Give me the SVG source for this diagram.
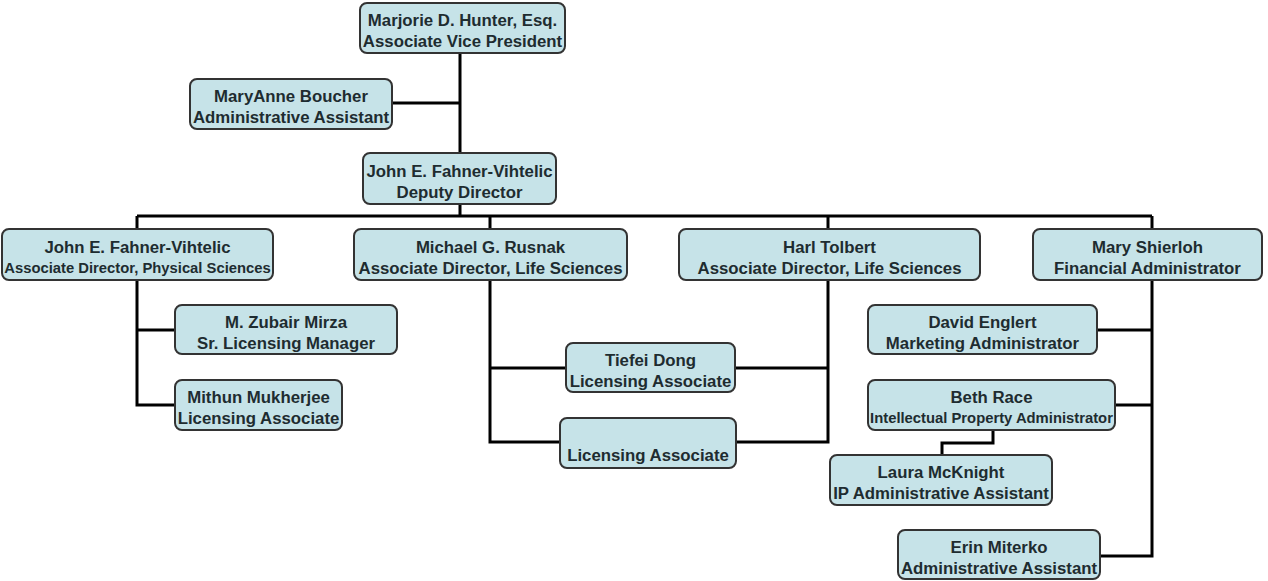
<svg xmlns="http://www.w3.org/2000/svg" width="1268" height="581" viewBox="0 0 1268 581">
<style>
.box{fill:#c6e3e8;stroke:#333;stroke-width:2}
.t{font-family:"Liberation Sans",Arial,sans-serif;font-weight:bold;font-size:16.8px;fill:#1e2c30;text-anchor:middle}
.s{font-size:14.8px}
.c{fill:none;stroke:#000;stroke-width:3}
</style>
<rect width="1268" height="581" fill="#fff"/>
<g id="connectors">
<path class="c" d="M460 53V153M392 103H460M460 204V216M137 216H1152M137 216V229M490 216V229M828 216V229M1152 216V229"/>
<path class="c" d="M137 280V405H174M137 330H174"/>
<path class="c" d="M490 280V442H560M490 368H566M828 280V442H736M735 368H828"/>
<path class="c" d="M1152 280V556H1100M1097 330H1152M1115 405H1152M993 430V443H942V455"/>
</g>
<g id="n-hunter"><rect class="box" x="360" y="3" width="205" height="50" rx="7"/><text class="t" x="462.5" y="26">Marjorie D. Hunter, Esq.</text><text class="t" x="462.5" y="47">Associate Vice President</text></g>
<g id="n-boucher"><rect class="box" x="190" y="79" width="202" height="50" rx="7"/><text class="t" x="291" y="102">MaryAnne Boucher</text><text class="t" x="291" y="123">Administrative Assistant</text></g>
<g id="n-deputy"><rect class="box" x="363" y="153" width="193" height="51" rx="7"/><text class="t" x="459.5" y="177">John E. Fahner-Vihtelic</text><text class="t" x="459.5" y="198">Deputy Director</text></g>
<g id="n-physical"><rect class="box" x="2" y="229" width="271" height="51" rx="7"/><text class="t" x="137.5" y="253">John E. Fahner-Vihtelic</text><text class="t s" x="137.5" y="273">Associate Director, Physical Sciences</text></g>
<g id="n-rusnak"><rect class="box" x="354" y="229" width="273" height="51" rx="7"/><text class="t" x="490.5" y="253">Michael G. Rusnak</text><text class="t" x="490.5" y="274">Associate Director, Life Sciences</text></g>
<g id="n-tolbert"><rect class="box" x="679" y="229" width="301" height="51" rx="7"/><text class="t" x="829.5" y="253">Harl Tolbert</text><text class="t" x="829.5" y="274">Associate Director, Life Sciences</text></g>
<g id="n-shierloh"><rect class="box" x="1033" y="229" width="229" height="51" rx="7"/><text class="t" x="1147.5" y="253">Mary Shierloh</text><text class="t" x="1147.5" y="274">Financial Administrator</text></g>
<g id="n-mirza"><rect class="box" x="175" y="305" width="222" height="49" rx="7"/><text class="t" x="286" y="328">M. Zubair Mirza</text><text class="t" x="286" y="349">Sr. Licensing Manager</text></g>
<g id="n-mukherjee"><rect class="box" x="175" y="380" width="167" height="50" rx="7"/><text class="t" x="258.5" y="403">Mithun Mukherjee</text><text class="t" x="258.5" y="424">Licensing Associate</text></g>
<g id="n-dong"><rect class="box" x="566" y="343" width="169" height="49" rx="7"/><text class="t" x="650.5" y="366">Tiefei Dong</text><text class="t" x="650.5" y="387">Licensing Associate</text></g>
<g id="n-licassoc"><rect class="box" x="560" y="418" width="176" height="50" rx="7"/><text class="t" x="648" y="461">Licensing Associate</text></g>
<g id="n-englert"><rect class="box" x="868" y="305" width="229" height="49" rx="7"/><text class="t" x="982.5" y="328">David Englert</text><text class="t" x="982.5" y="349">Marketing Administrator</text></g>
<g id="n-race"><rect class="box" x="868" y="380" width="247" height="50" rx="7"/><text class="t" x="991.5" y="403">Beth Race</text><text class="t s" x="991.5" y="423">Intellectual Property Administrator</text></g>
<g id="n-mcknight"><rect class="box" x="830" y="455" width="222" height="50" rx="7"/><text class="t" x="941" y="478">Laura McKnight</text><text class="t" x="941" y="499">IP Administrative Assistant</text></g>
<g id="n-miterko"><rect class="box" x="898" y="530" width="202" height="49" rx="7"/><text class="t" x="999" y="553">Erin Miterko</text><text class="t" x="999" y="574">Administrative Assistant</text></g>
</svg>
